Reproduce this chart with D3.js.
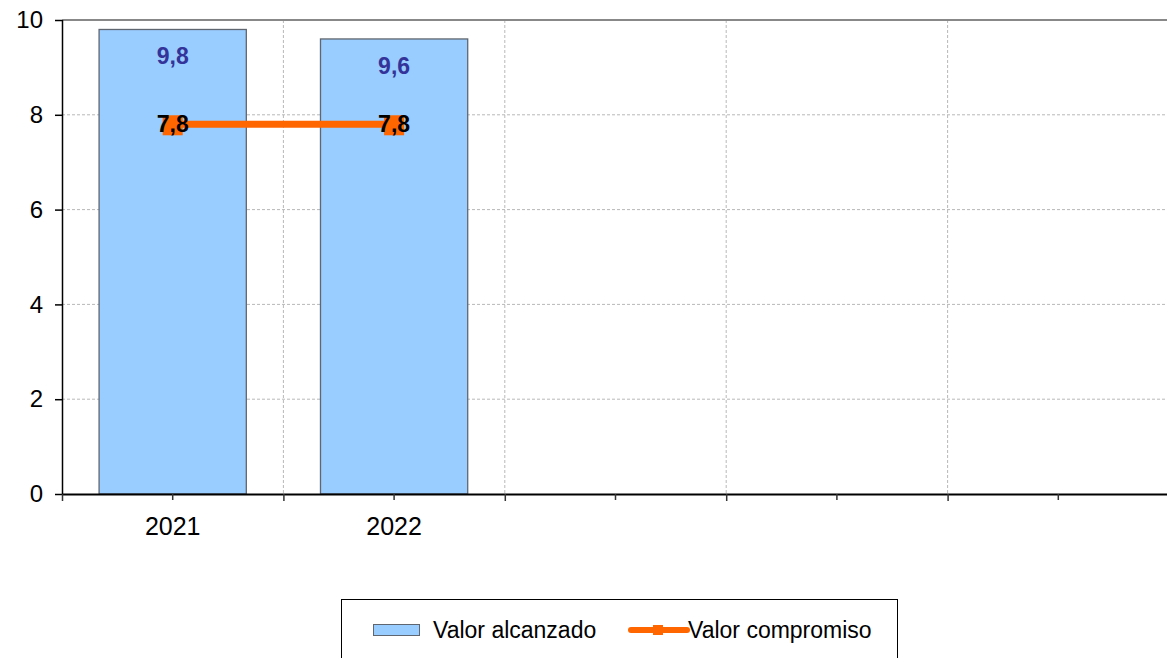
<!DOCTYPE html>
<html>
<head>
    <meta charset="utf-8">
    <title>Valor alcanzado vs compromiso</title>
    <style>
        body {
            margin: 0;
            font-family: "Liberation Sans", Arial, sans-serif;
            background: white;
        }
        svg { display: block; }
    </style>
</head>
<body>
    <div id="chart"></div>

    <script src="https://d3js.org/d3.v7.min.js"></script>
    <script>
    // Data
    const categories = ["2021", "2022", "", "", ""];
    const alcanzado = [9.8, 9.6, null, null, null];
    const compromiso = [7.8, 7.8, null, null, null];
    const yTicks = [0, 2, 4, 6, 8, 10];

    const W = 1167, H = 658;
    const plot = {left: 62, right: 1169, top: 20, bottom: 494};
    const FONT = "Liberation Sans, Arial, sans-serif";

    const svg = d3.select("#chart").append("svg")
        .attr("width", W)
        .attr("height", H);

    // Scales
    const idx = d3.range(categories.length);
    const x = d3.scaleBand()
        .domain(idx)
        .range([plot.left, plot.right])
        .paddingInner(0.335)
        .paddingOuter(0.1675);

    // boundaries of the categories
    const xb = d3.scaleLinear()
        .domain([0, categories.length])
        .range([plot.left, plot.right]);

    const y = d3.scaleLinear()
        .domain([0, 10])
        .range([plot.bottom, plot.top]);

    // Horizontal gridlines
    svg.append("g")
        .selectAll("line")
        .data(yTicks.filter(t => t > 0 && t < 10))
        .enter().append("line")
        .attr("x1", plot.left)
        .attr("x2", plot.right)
        .attr("y1", d => y(d))
        .attr("y2", d => y(d))
        .attr("stroke", "#b8b8b8")
        .attr("stroke-width", 1)
        .attr("stroke-dasharray", "3 2");

    // Vertical gridlines at category boundaries
    svg.append("g")
        .selectAll("line")
        .data(d3.range(1, categories.length))
        .enter().append("line")
        .attr("x1", d => xb(d))
        .attr("x2", d => xb(d))
        .attr("y1", plot.top)
        .attr("y2", plot.bottom)
        .attr("stroke", "#b8b8b8")
        .attr("stroke-width", 1)
        .attr("stroke-dasharray", "3 2");

    // Top border
    svg.append("line")
        .attr("x1", plot.left)
        .attr("x2", plot.right)
        .attr("y1", y(10))
        .attr("y2", y(10))
        .attr("stroke", "#888")
        .attr("stroke-width", 2);

    // Bars
    svg.append("g")
        .selectAll("rect")
        .data(idx.filter(i => alcanzado[i] != null))
        .enter().append("rect")
        .attr("x", i => x(i))
        .attr("y", i => y(alcanzado[i]))
        .attr("width", x.bandwidth())
        .attr("height", i => y(0) - y(alcanzado[i]))
        .attr("fill", "#99ccff")
        .attr("stroke", "#5f6670")
        .attr("stroke-width", 1.3);

    // Bar value labels
    svg.append("g")
        .selectAll("text")
        .data(idx.filter(i => alcanzado[i] != null))
        .enter().append("text")
        .attr("x", i => x(i) + x.bandwidth() / 2)
        .attr("y", i => y(alcanzado[i]) + 35)
        .attr("text-anchor", "middle")
        .attr("fill", "#333399")
        .style("font-size", "23px")
        .style("font-weight", "bold")
        .text(i => String(alcanzado[i]).replace(".", ","));

    // Axes
    const yAxis = svg.append("g")
        .attr("transform", `translate(${plot.left},0)`)
        .call(d3.axisLeft(y).tickValues(yTicks).tickSize(7).tickPadding(12));
    yAxis.select(".domain").attr("stroke", "#000").attr("stroke-width", 1.5)
        .attr("d", `M0.5,${plot.top}V${plot.bottom}`);
    yAxis.selectAll(".tick line").attr("stroke", "#000").attr("stroke-width", 1.5);
    yAxis.selectAll("text")
        .style("font-size", "24px")
        .style("font-family", FONT)
        .attr("fill", "#000");

    // x axis: ticks at centres with labels
    const xAxis = svg.append("g")
        .attr("transform", `translate(0,${plot.bottom})`)
        .call(d3.axisBottom(x).tickFormat(i => categories[i]).tickSize(6).tickPadding(17));
    xAxis.select(".domain").attr("stroke", "#000").attr("stroke-width", 2)
        .attr("d", `M${plot.left},0.5H${plot.right}`);
    xAxis.selectAll(".tick line").attr("stroke", "#333").attr("stroke-width", 1.5);
    xAxis.selectAll("text")
        .style("font-size", "25px")
        .style("font-family", FONT)
        .attr("fill", "#000");

    // x axis: ticks at boundaries
    const xAxisB = svg.append("g")
        .attr("transform", `translate(0,${plot.bottom})`)
        .call(d3.axisBottom(xb).tickValues(d3.range(0, categories.length + 1)).tickFormat("").tickSize(7));
    xAxisB.select(".domain").remove();
    xAxisB.selectAll(".tick line").attr("stroke", "#333").attr("stroke-width", 1.5);

    // Compromiso line
    const lineIdx = idx.filter(i => compromiso[i] != null);
    const line = d3.line()
        .x(i => x(i) + x.bandwidth() / 2)
        .y(i => y(compromiso[i]));

    svg.append("path")
        .datum(lineIdx)
        .attr("d", line)
        .attr("fill", "none")
        .attr("stroke", "#ff6600")
        .attr("stroke-width", 7);

    svg.append("g")
        .selectAll("rect")
        .data(lineIdx)
        .enter().append("rect")
        .attr("x", i => x(i) + x.bandwidth() / 2 - 10)
        .attr("y", i => y(compromiso[i]) - 9)
        .attr("width", 20)
        .attr("height", 20)
        .attr("fill", "#ff6600");

    svg.append("g")
        .selectAll("text")
        .data(lineIdx)
        .enter().append("text")
        .attr("x", i => x(i) + x.bandwidth() / 2)
        .attr("y", i => y(compromiso[i]) + 8)
        .attr("text-anchor", "middle")
        .attr("fill", "#000")
        .style("font-size", "23px")
        .style("font-weight", "bold")
        .text(i => String(compromiso[i]).replace(".", ","));

    // Legend
    const legend = svg.append("g");
    legend.append("rect")
        .attr("x", 341.5)
        .attr("y", 599.5)
        .attr("width", 556)
        .attr("height", 70)
        .attr("fill", "white")
        .attr("stroke", "#000")
        .attr("stroke-width", 1);

    legend.append("rect")
        .attr("x", 373.5)
        .attr("y", 624.5)
        .attr("width", 46)
        .attr("height", 11)
        .attr("fill", "#99ccff")
        .attr("stroke", "#5f6670")
        .attr("stroke-width", 1);

    legend.append("text")
        .attr("x", 433)
        .attr("y", 638)
        .style("font-size", "23px")
        .text("Valor alcanzado");

    legend.append("line")
        .attr("x1", 631)
        .attr("x2", 687)
        .attr("y1", 630)
        .attr("y2", 630)
        .attr("stroke", "#ff6600")
        .attr("stroke-width", 6)
        .attr("stroke-linecap", "round");

    legend.append("rect")
        .attr("x", 653)
        .attr("y", 625)
        .attr("width", 10)
        .attr("height", 10)
        .attr("fill", "#ff6600");

    legend.append("text")
        .attr("x", 688)
        .attr("y", 638)
        .style("font-size", "23px")
        .text("Valor compromiso");
    </script>
</body>
</html>
